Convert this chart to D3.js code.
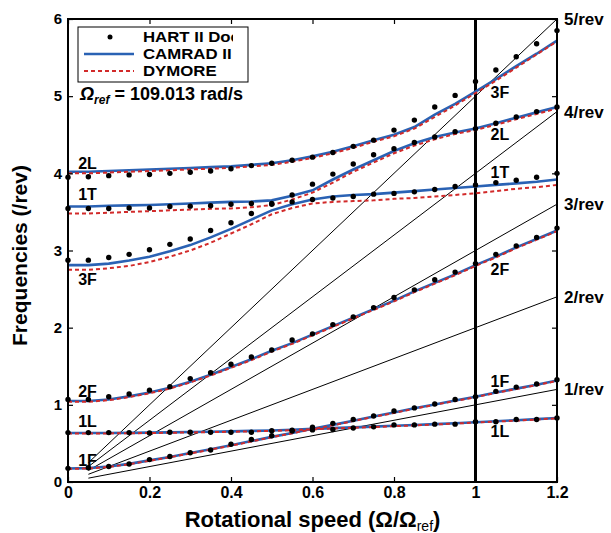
<!DOCTYPE html>
<html>
<head>
<meta charset="utf-8">
<script src="https://cdn.jsdelivr.net/npm/d3@7/dist/d3.min.js"></script>
<style>
  body { margin: 0; background: #fff; }
  text { font-family: "Liberation Sans", Arial, sans-serif; font-weight: bold; }
</style>
</head>
<body>
<div id="chart"></div>
<script>
// --- Data: rotor frequencies (/rev) vs. normalized rotational speed ---
const speeds = [0, 0.05, 0.1, 0.15, 0.2, 0.25, 0.3, 0.35, 0.4, 0.45, 0.5, 0.55, 0.6,
  0.65, 0.7, 0.75, 0.8, 0.85, 0.9, 0.95, 1.0, 1.05, 1.1, 1.15, 1.2];

// upper branch (2L at low speed, 3F at high speed)
const hart2L3F = [3.95, 3.955, 3.97, 3.98, 3.985, 4.0, 4.015, 4.03, 4.06, 4.10, 4.13, 4.17, 4.21,
  4.27, 4.35, 4.43, 4.56, 4.69, 4.86, 5.01, 5.19, 5.34, 5.51, 5.68, 5.85];
const camrad2L3F = [4.02, 4.02, 4.03, 4.04, 4.05, 4.06, 4.07, 4.08, 4.09, 4.11, 4.13, 4.17, 4.22,
  4.28, 4.35, 4.43, 4.50, 4.60, 4.76, 4.90, 5.06, 5.22, 5.39, 5.55, 5.72];
const dymore2L3F = [4.00, 4.00, 4.01, 4.02, 4.03, 4.04, 4.05, 4.06, 4.07, 4.09, 4.11, 4.15, 4.20,
  4.26, 4.33, 4.41, 4.48, 4.58, 4.73, 4.88, 5.04, 5.20, 5.37, 5.54, 5.71];

// middle branch (1T -> 2L)
const hart1T2L = [3.545, 3.545, 3.545, 3.55, 3.55, 3.57, 3.575, 3.58, 3.60, 3.61, 3.61, 3.72, 3.86,
  3.99, 4.12, 4.24, 4.32, 4.40, 4.47, 4.54, 4.58, 4.65, 4.73, 4.80, 4.86];
const camrad1T2L = [3.57, 3.57, 3.58, 3.585, 3.59, 3.60, 3.61, 3.62, 3.63, 3.635, 3.65, 3.71, 3.78,
  3.92, 4.05, 4.17, 4.29, 4.39, 4.47, 4.53, 4.58, 4.65, 4.72, 4.79, 4.86];
const dymore1T2L = [3.48, 3.48, 3.49, 3.50, 3.51, 3.52, 3.53, 3.54, 3.545, 3.56, 3.59, 3.66, 3.75,
  3.88, 4.02, 4.14, 4.26, 4.36, 4.44, 4.51, 4.56, 4.63, 4.70, 4.77, 4.84];

// lower branch (3F -> 1T)
const hart3F1T = [2.875, 2.875, 2.91, 2.95, 3.01, 3.08, 3.15, 3.26, 3.36, 3.48, 3.60, 3.63, 3.66,
  3.68, 3.70, 3.73, 3.74, 3.76, 3.79, 3.83, 3.85, 3.88, 3.91, 3.95, 4.0];
const camrad3F1T = [2.81, 2.81, 2.83, 2.87, 2.92, 2.99, 3.07, 3.17, 3.28, 3.40, 3.52, 3.60, 3.66,
  3.70, 3.72, 3.73, 3.75, 3.77, 3.79, 3.81, 3.83, 3.85, 3.87, 3.89, 3.92];
const dymore3F1T = [2.75, 2.75, 2.77, 2.80, 2.85, 2.92, 3.00, 3.10, 3.22, 3.34, 3.47, 3.55, 3.61,
  3.63, 3.64, 3.65, 3.67, 3.68, 3.70, 3.72, 3.74, 3.77, 3.80, 3.82, 3.85];

// 2F
const hart2F = [1.07, 1.07, 1.105, 1.14, 1.19, 1.235, 1.34, 1.415, 1.525, 1.62, 1.71, 1.84, 1.92,
  2.04, 2.14, 2.26, 2.39, 2.49, 2.62, 2.72, 2.83, 2.95, 3.06, 3.17, 3.29];
const camrad2F = [1.05, 1.05, 1.07, 1.11, 1.16, 1.22, 1.30, 1.39, 1.49, 1.59, 1.70, 1.80, 1.91,
  2.02, 2.13, 2.24, 2.35, 2.47, 2.58, 2.69, 2.81, 2.92, 3.04, 3.15, 3.26];
const dymore2F = [1.04, 1.04, 1.06, 1.10, 1.15, 1.21, 1.29, 1.38, 1.48, 1.58, 1.69, 1.79, 1.90,
  2.01, 2.12, 2.23, 2.34, 2.46, 2.57, 2.68, 2.80, 2.91, 3.03, 3.14, 3.25];

// 1L
const hart1L = [0.64, 0.64, 0.64, 0.64, 0.635, 0.645, 0.645, 0.645, 0.645, 0.645, 0.665, 0.67, 0.675,
  0.68, 0.70, 0.715, 0.74, 0.74, 0.75, 0.75, 0.78, 0.78, 0.81, 0.81, 0.83];
const camrad1L = [0.635, 0.635, 0.635, 0.637, 0.64, 0.643, 0.647, 0.651, 0.656, 0.662, 0.668, 0.677, 0.688,
  0.698, 0.708, 0.718, 0.728, 0.738, 0.75, 0.762, 0.775, 0.788, 0.80, 0.815, 0.83];
const dymore1L = [0.63, 0.63, 0.63, 0.632, 0.635, 0.638, 0.642, 0.646, 0.651, 0.657, 0.663, 0.672, 0.683,
  0.693, 0.703, 0.713, 0.723, 0.733, 0.745, 0.757, 0.77, 0.783, 0.795, 0.81, 0.825];

// 1F
const hart1F = [0.177, 0.185, 0.20, 0.233, 0.29, 0.33, 0.38, 0.415, 0.49, 0.55, 0.60, 0.66, 0.71,
  0.76, 0.81, 0.855, 0.92, 0.96, 1.01, 1.07, 1.105, 1.175, 1.23, 1.27, 1.325];
const camrad1F = [0.175, 0.18, 0.20, 0.235, 0.28, 0.325, 0.375, 0.425, 0.475, 0.53, 0.585, 0.635, 0.69,
  0.74, 0.795, 0.85, 0.90, 0.955, 1.005, 1.055, 1.105, 1.16, 1.21, 1.26, 1.315];
const dymore1F = [0.17, 0.175, 0.195, 0.23, 0.275, 0.32, 0.37, 0.42, 0.47, 0.525, 0.58, 0.63, 0.685,
  0.735, 0.79, 0.845, 0.895, 0.95, 1.0, 1.05, 1.10, 1.155, 1.205, 1.255, 1.31];

// per-rev reference lines
const harmonics = [1, 2, 3, 4, 5];
const revLineSpan = [0.05, 1.2];

// mode labels and the frequency level of their baselines
const leftModes = ["2L", "1T", "3F", "2F", "1L", "1F"];
const leftModeLevels = [4.05, 3.65, 2.55, 1.10, 0.71, 0.21];
const rightModes = ["3F", "2L", "1T", "2F", "1F", "1L"];
const rightModeLevels = [4.97, 4.43, 3.94, 2.68, 1.23, 0.58];

const xTicks = [0, 0.2, 0.4, 0.6, 0.8, 1, 1.2];
const yTicks = [0, 1, 2, 3, 4, 5, 6];

const legendLabels = ["HART II Doc", "CAMRAD II", "DYMORE"];

const hartSeries = [hart2L3F, hart1T2L, hart3F1T, hart2F, hart1L, hart1F];
const camradSeries = [camrad2L3F, camrad1T2L, camrad3F1T, camrad2F, camrad1L, camrad1F];
const dymoreSeries = [dymore2L3F, dymore1T2L, dymore3F1T, dymore2F, dymore1L, dymore1F];

// --- Dimensions ---
const width = 611;
const height = 533;
const margin = { top: 19, right: 54, bottom: 51, left: 68 };
const innerW = width - margin.left - margin.right;
const innerH = height - margin.top - margin.bottom;

const blue = "#2a62b4";
const red = "#d22a2a";

const svg = d3.select("#chart").append("svg")
  .attr("width", width)
  .attr("height", height);

const g = svg.append("g").attr("transform", `translate(${margin.left},${margin.top})`);

// --- Scales ---
const x = d3.scaleLinear().domain([0, 1.2]).range([0, innerW]);
const y = d3.scaleLinear().domain([0, 6]).range([innerH, 0]);

// --- Per-rev lines ---
g.append("g")
  .selectAll("line")
  .data(harmonics)
  .join("line")
  .attr("x1", x(revLineSpan[0]))
  .attr("y1", n => y(n * revLineSpan[0]))
  .attr("x2", x(revLineSpan[1]))
  .attr("y2", n => y(n * revLineSpan[1]))
  .attr("stroke", "#000")
  .attr("stroke-width", 1);

g.append("g")
  .selectAll("text")
  .data(harmonics)
  .join("text")
  .attr("x", innerW + 7)
  .attr("y", n => y(n * revLineSpan[1]))
  .attr("dy", "0.35em")
  .attr("font-size", 17)
  .text(n => `${n}/rev`);

// nominal speed marker
g.append("line")
  .attr("x1", x(1)).attr("x2", x(1))
  .attr("y1", y(0)).attr("y2", y(6))
  .attr("stroke", "#000")
  .attr("stroke-width", 3);

// --- Curves ---
const line = d3.line()
  .x((d, i) => x(speeds[i]))
  .y(d => y(d));

g.append("g")
  .selectAll("path")
  .data(camradSeries)
  .join("path")
  .attr("d", line)
  .attr("fill", "none")
  .attr("stroke", blue)
  .attr("stroke-width", 2.6);

g.append("g")
  .selectAll("path")
  .data(dymoreSeries)
  .join("path")
  .attr("d", line)
  .attr("fill", "none")
  .attr("stroke", red)
  .attr("stroke-width", 2)
  .attr("stroke-dasharray", "4,3");

// test data points
g.append("g")
  .selectAll("g")
  .data(hartSeries)
  .join("g")
  .selectAll("circle")
  .data(d => d)
  .join("circle")
  .attr("cx", (d, i) => x(speeds[i]))
  .attr("cy", d => y(d))
  .attr("r", 2.7)
  .attr("fill", "#000");

// --- Axes (ticks inside, on all four sides) ---
const axisB = g.append("g").attr("transform", `translate(0,${innerH})`)
  .call(d3.axisBottom(x).tickValues(xTicks).tickSize(-5).tickPadding(5)
    .tickFormat(d3.format("~g")));
const axisL = g.append("g")
  .call(d3.axisLeft(y).tickValues(yTicks).tickSize(-5).tickPadding(6)
    .tickFormat(d3.format("d")));
g.append("g")
  .call(d3.axisTop(x).tickValues(xTicks).tickSize(-5).tickFormat(""));
g.append("g").attr("transform", `translate(${innerW},0)`)
  .call(d3.axisRight(y).tickValues(yTicks).tickSize(-5).tickFormat(""));

g.selectAll(".domain").remove();
g.selectAll(".tick line").attr("stroke", "#000").attr("stroke-width", 1.2);
axisB.selectAll("text").attr("font-size", 16).attr("fill", "#000");
axisL.selectAll("text").attr("font-size", 15).attr("fill", "#000");

g.append("rect")
  .attr("width", innerW)
  .attr("height", innerH)
  .attr("fill", "none")
  .attr("stroke", "#000")
  .attr("stroke-width", 2);

// --- Mode labels ---
g.append("g")
  .selectAll("text")
  .data(leftModes)
  .join("text")
  .attr("x", x(0.025))
  .attr("y", (d, i) => y(leftModeLevels[i]))
  .attr("font-size", 16)
  .text(d => d);

g.append("g")
  .selectAll("text")
  .data(rightModes)
  .join("text")
  .attr("x", x(1.037))
  .attr("y", (d, i) => y(rightModeLevels[i]))
  .attr("font-size", 16)
  .text(d => d);

// --- Legend ---
const legend = g.append("g").attr("transform", "translate(10,8)");
const legendW = 170;
const legendH = 55;

// entry text is cut off short of the right border
svg.append("defs").append("clipPath")
  .attr("id", "legend-clip")
  .append("rect")
  .attr("width", 155)
  .attr("height", legendH);

legend.append("rect")
  .attr("width", legendW)
  .attr("height", legendH)
  .attr("fill", "#fff")
  .attr("stroke", "#000")
  .attr("stroke-width", 1);

const entries = legend.append("g").attr("clip-path", "url(#legend-clip)");
const rowY = [10, 27, 44];

entries.append("circle").attr("cx", 32).attr("cy", rowY[0]).attr("r", 2.5).attr("fill", "#000");
entries.append("line").attr("x1", 6).attr("x2", 56).attr("y1", rowY[1]).attr("y2", rowY[1])
  .attr("stroke", blue).attr("stroke-width", 2.6);
entries.append("line").attr("x1", 6).attr("x2", 56).attr("y1", rowY[2]).attr("y2", rowY[2])
  .attr("stroke", red).attr("stroke-width", 2).attr("stroke-dasharray", "4,3");

entries.selectAll("text.entry")
  .data(legendLabels)
  .join("text")
  .attr("class", "entry")
  .attr("transform", (d, i) => `translate(65,${rowY[i]}) scale(1.12,1)`)
  .attr("dy", "0.35em")
  .attr("font-size", 15)
  .text(d => d);

// reference speed note
const note = g.append("text")
  .attr("x", 12)
  .attr("y", 81)
  .attr("font-size", 18);
note.append("tspan").attr("font-style", "italic").text("Ω");
note.append("tspan").attr("font-style", "italic").attr("font-size", 12).attr("dy", 4).text("ref");
note.append("tspan").attr("dy", -4).text(" = 109.013 rad/s");

// --- Axis titles ---
const xTitle = svg.append("text")
  .attr("x", margin.left + innerW / 2)
  .attr("y", 527)
  .attr("text-anchor", "middle")
  .attr("font-size", 22);
xTitle.append("tspan").text("Rotational speed (Ω/Ω");
xTitle.append("tspan").attr("font-size", 14).attr("font-weight", "normal").attr("dy", 4).text("ref");
xTitle.append("tspan").attr("dy", -4).text(")");

svg.append("text")
  .attr("transform", `translate(27,${margin.top + innerH / 2 + 5}) rotate(-90)`)
  .attr("text-anchor", "middle")
  .attr("font-size", 21)
  .text("Frequencies (/rev)");
</script>
</body>
</html>
